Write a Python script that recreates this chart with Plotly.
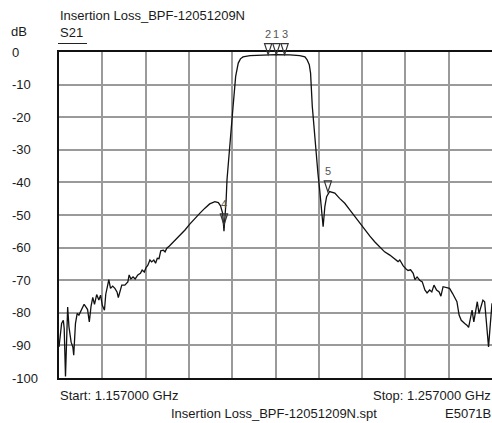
import plotly.graph_objects as go

# ---------------- data ----------------
freq_mhz = [
    1157.0, 1157.3, 1157.6, 1158.0, 1158.2, 1158.5, 1159.0, 1159.3, 1159.8, 1160.2,
    1160.4, 1160.8, 1161.2, 1161.6, 1162.2, 1162.8, 1163.2, 1163.6, 1164.0, 1164.4,
    1164.8, 1165.2, 1165.7, 1166.2, 1166.6, 1167.0, 1167.5, 1167.8, 1168.2, 1168.5,
    1168.9, 1169.4, 1169.9, 1170.4, 1170.7, 1171.1, 1171.5, 1172.2, 1172.9, 1173.2,
    1173.6, 1174.1, 1174.6, 1175.2, 1175.8, 1176.2, 1176.7, 1177.1, 1177.5, 1178.0,
    1178.4, 1178.9, 1179.3, 1179.7, 1180.1, 1180.5, 1181.1, 1181.5, 1181.9, 1182.5,
    1183.1, 1183.8, 1184.9, 1186.1, 1187.2, 1188.4, 1189.5, 1190.7, 1191.8, 1193.0,
    1193.8, 1194.3, 1194.8, 1195.1, 1195.4, 1195.6, 1195.8, 1196.5, 1197.2, 1197.8,
    1198.4, 1198.9, 1199.5, 1201.1, 1204.1, 1207.2, 1210.3, 1212.6, 1213.8, 1214.3,
    1214.8, 1215.1, 1215.5, 1216.1, 1216.8, 1217.2, 1217.6, 1218.0, 1218.4, 1218.8,
    1219.5, 1220.7, 1221.8, 1223.0, 1224.2, 1225.3, 1226.5, 1227.7, 1228.8, 1229.9,
    1231.1, 1232.2, 1233.4, 1234.5, 1235.3, 1235.7, 1236.5, 1237.1, 1237.6, 1238.2,
    1238.8, 1239.2, 1239.7, 1240.3, 1240.9, 1241.5, 1242.0, 1242.6, 1243.1, 1243.6,
    1244.2, 1244.8, 1245.2, 1245.7, 1246.5, 1247.2, 1247.9, 1248.4, 1248.9, 1249.4,
    1249.9, 1250.7, 1251.2, 1251.6, 1252.0, 1252.4, 1252.8, 1253.2, 1253.6, 1254.0,
    1254.5, 1254.9, 1255.3, 1255.8, 1256.2, 1256.5, 1256.8, 1257.0,
]
s21_db = [
    -90.5, -86.0, -83.3, -82.3, -84.8, -99.5, -78.2, -84.3, -89.0, -90.5,
    -93.0, -83.3, -80.2, -80.7, -79.0, -77.4, -78.2, -79.0, -82.8, -78.0,
    -75.3, -77.4, -74.4, -76.1, -74.6, -77.7, -79.2, -74.3, -71.8, -69.8,
    -72.5, -71.8, -72.5, -73.6, -75.3, -73.0, -71.5, -71.5, -70.5, -68.4,
    -69.6, -69.0, -69.6, -68.4, -67.9, -66.9, -67.5, -66.1, -65.5, -63.8,
    -64.4, -63.8, -64.8, -63.3, -63.4, -61.0, -60.8, -61.3, -60.2, -59.5,
    -58.7, -57.5, -56.1, -54.6, -52.8, -51.0, -49.5, -47.9, -46.6, -45.9,
    -46.2, -47.2, -49.5, -55.0, -50.5, -45.4, -39.2, -27.0, -16.7, -7.5,
    -3.4, -2.1, -1.5, -1.1, -0.9, -0.8, -0.9, -1.1, -1.5, -2.4,
    -3.9, -6.5, -16.7, -27.0, -37.2, -42.3, -47.4, -53.6, -47.4, -44.4,
    -42.8, -43.3, -44.9, -46.4, -48.5, -50.5, -52.6, -54.6, -56.5, -58.2,
    -59.7, -61.3, -62.3, -63.3, -64.3, -63.8, -65.6, -66.5, -67.0, -66.8,
    -67.9, -69.8, -69.0, -70.0, -70.5, -73.0, -73.9, -73.0, -73.6, -71.5,
    -73.0, -73.6, -74.9, -72.0, -72.2, -72.5, -74.1, -75.6, -76.6, -80.7,
    -82.3, -83.3, -83.8, -84.5, -82.3, -79.2, -82.8, -80.0, -76.6, -80.2,
    -78.2, -76.1, -76.6, -83.8, -90.5, -85.3, -78.2, -77.1,
]

marker_ids = ["1", "2", "3", "4", "5"]
marker_freq = [1207.2, 1205.3, 1209.1, 1195.1, 1219.1]
marker_db = [-0.8, -0.8, -0.8, -53.0, -42.9]

y_tick_vals = [0, -10, -20, -30, -40, -50, -60, -70, -80, -90, -100]
y_tick_text = ["0", "-10", "-20", "-30", "-40", "-50", "-60", "-70", "-80", "-90", "-100"]
x_tick_vals = [1157, 1167, 1177, 1187, 1197, 1207, 1217, 1227, 1237, 1247, 1257]

title_text = "Insertion Loss_BPF-12051209N"
trace_name = "S21"
unit_text = "dB"
start_text = "Start: 1.157000 GHz"
stop_text = "Stop: 1.257000 GHz"
file_text = "Insertion Loss_BPF-12051209N.spt"
model_text = "E5071B"

# ---------------- layout geometry ----------------
FIG_W, FIG_H = 492, 423
M_L, M_R, M_T, M_B = 59, 0, 52, 45
PW = FIG_W - M_L - M_R
PH = FIG_H - M_T - M_B
X_MIN, X_MAX = 1157, 1257
Y_MIN, Y_MAX = -100, 0

FONT = "Liberation Sans, Arial, sans-serif"
TXT = "#1a1a1a"


def px_x(px):
    """pixel column -> paper x"""
    return (px - M_L) / PW


def px_y(py):
    """pixel row -> paper y"""
    return (FIG_H - M_B - py) / PH


fig = go.Figure()
fig.add_trace(go.Scatter(
    x=freq_mhz, y=s21_db, mode="lines",
    line=dict(color="#111111", width=1.3),
    hoverinfo="skip", showlegend=False,
))

shapes = []
annotations = []

# marker triangles (pointing down onto the trace) and their labels
mhz_per_px = (X_MAX - X_MIN) / PW
half_w = 3.6 * mhz_per_px
tri_h = 11 / PH
for mid, mf, mdb in zip(marker_ids, marker_freq, marker_db):
    y0 = (mdb - Y_MIN) / (Y_MAX - Y_MIN)
    path = (f"M {mf - half_w},{y0 + tri_h} L {mf + half_w},{y0 + tri_h} "
            f"L {mf},{y0} Z")
    shapes.append(dict(type="path", path=path, xref="x", yref="paper",
                       line=dict(color="#333333", width=1.2),
                       fillcolor="rgba(0,0,0,0)", layer="above"))
    annotations.append(dict(x=mf, y=y0 + tri_h + 9.5 / PH, xref="x", yref="paper",
                            text=mid, showarrow=False, xanchor="center",
                            yanchor="middle",
                            font=dict(family=FONT, size=11, color="#555555")))

# underline below "S21"
shapes.append(dict(type="line", xref="paper", yref="paper",
                   x0=px_x(58), x1=px_x(87), y0=px_y(43.5), y1=px_y(43.5),
                   line=dict(color="#222222", width=1)))

# y tick labels
for v, t in zip(y_tick_vals, y_tick_text):
    annotations.append(dict(x=px_x(10), y=v, xref="paper", yref="y", text=t,
                            showarrow=False, xanchor="left", yanchor="middle",
                            font=dict(family=FONT, size=13, color=TXT)))


def txt(text, x, y, anchor):
    annotations.append(dict(x=x, y=y, xref="paper", yref="paper", text=text,
                            showarrow=False, xanchor=anchor, yanchor="middle",
                            font=dict(family=FONT, size=13, color=TXT)))


txt(title_text, px_x(58), px_y(15), "left")
txt(unit_text, px_x(9), px_y(32), "left")
txt(trace_name, px_x(58), px_y(33), "left")
txt(start_text, px_x(58), px_y(395), "left")
txt(stop_text, px_x(493), px_y(395), "right")
txt(file_text, px_x(169), px_y(413), "left")
txt(model_text, px_x(493), px_y(413), "right")

fig.update_layout(
    width=FIG_W, height=FIG_H,
    margin=dict(l=M_L, r=M_R, t=M_T, b=M_B, pad=0),
    paper_bgcolor="white", plot_bgcolor="white",
    showlegend=False,
    shapes=shapes, annotations=annotations,
    xaxis=dict(range=[X_MIN, X_MAX], tickvals=x_tick_vals, showticklabels=False,
               showgrid=True, gridcolor="#9a9a9a", gridwidth=1.5,
               zeroline=False, showline=True, mirror=True,
               linecolor="#111111", linewidth=2, ticks=""),
    yaxis=dict(range=[Y_MIN, Y_MAX], tickvals=y_tick_vals, showticklabels=False,
               showgrid=True, gridcolor="#9a9a9a", gridwidth=1.5,
               zeroline=False, showline=True, mirror=False,
               linecolor="#111111", linewidth=2, ticks=""),
)

# remove the browser's default 8px page margin so the figure fills the window
fig.write_html(
    "out.html",
    config={"displayModeBar": False},
    post_script="document.body.style.margin='0';document.body.style.overflow='hidden';",
)
